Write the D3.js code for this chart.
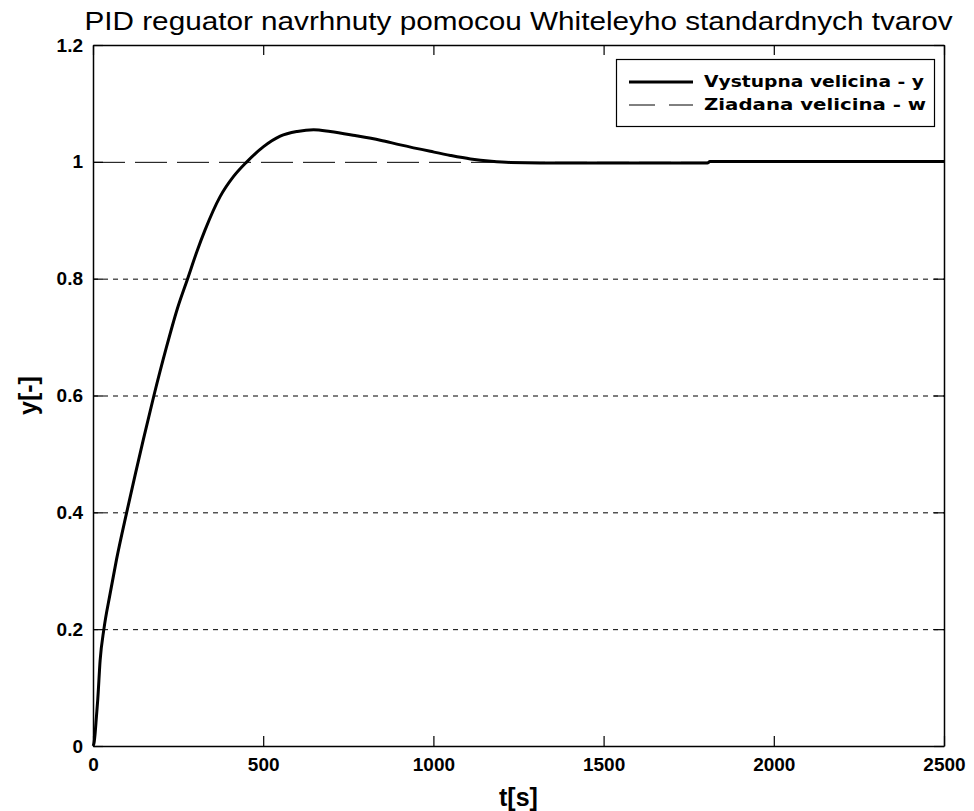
<!DOCTYPE html>
<html>
<head>
<meta charset="utf-8">
<script src="https://cdn.jsdelivr.net/npm/d3@7"></script>
<style>
  html, body { margin: 0; padding: 0; background: #fff; }
  svg { display: block; }
</style>
</head>
<body>
<svg id="chart" width="974" height="811"></svg>
<script>
// Step response of the closed loop (output y) and the set-point w
const timeS = [0, 3, 6, 10, 14, 21, 32, 50, 69, 99, 125, 148, 179, 215, 248, 278, 305, 329, 373, 413,
  452, 501, 550, 600, 648, 697, 770, 844, 903, 991, 1050, 1109, 1170, 1226, 1400, 1600, 1805,
  1812, 2000, 2200, 2500];
const outputY = [0, 0.005, 0.02, 0.05, 0.08, 0.147, 0.2, 0.26, 0.319, 0.4, 0.467, 0.525, 0.6, 0.681,
  0.749, 0.8, 0.846, 0.883, 0.94, 0.975, 1.0, 1.026, 1.044, 1.052, 1.055, 1.052, 1.045, 1.037,
  1.029, 1.018, 1.011, 1.005, 1.001, 0.999, 0.998, 0.998, 0.998, 1.0005, 1.0005, 1.0005, 1.0005];
const setpointT = [0, 2500];
const setpointW = [1, 1];

const xTicks = [0, 500, 1000, 1500, 2000, 2500];
const yTicks = [0, 0.2, 0.4, 0.6, 0.8, 1, 1.2];
const gridTicks = [0.2, 0.4, 0.6, 0.8];
const legendLabels = ["Vystupna velicina - y", "Ziadana velicina - w"];
const titleText = "PID reguator navrhnuty pomocou Whiteleyho standardnych tvarov";

(function () {
const svg = d3.select("#chart");
const pL = 93, pR = 944, pT = 45, pB = 746;

const x = d3.scaleLinear().domain([0, 2500]).range([pL, pR]);
const y = d3.scaleLinear().domain([0, 1.2]).range([pB, pT]);

const font = "'Liberation Sans', Arial, sans-serif";

// dotted horizontal grid
svg.append("g").selectAll("line").data(gridTicks).join("line")
  .attr("x1", pL).attr("x2", pR)
  .attr("y1", d => y(d) + 0.5).attr("y2", d => y(d) + 0.5)
  .attr("stroke", "#000").attr("stroke-width", 1)
  .attr("stroke-dasharray", "5,5");

// set-point, long dashes
const line = d3.line().x(d => x(d[0])).y(d => y(d[1]));
svg.append("path")
  .datum(setpointT.map((t, i) => [t, setpointW[i]]))
  .attr("d", line)
  .attr("transform", "translate(0,0.5)")
  .attr("fill", "none").attr("stroke", "#000").attr("stroke-width", 1)
  .attr("stroke-dasharray", "32,10");

// plant output
const outLine = d3.line().x(d => x(d[0])).y(d => y(d[1])).curve(d3.curveMonotoneX);
svg.append("path")
  .datum(timeS.map((t, i) => [t, outputY[i]]))
  .attr("d", outLine)
  .attr("fill", "none").attr("stroke", "#000").attr("stroke-width", 3)
  .attr("stroke-linejoin", "round");

// axes box with inward ticks on all four sides
const tickLen = 10;
const axB = svg.append("g").attr("transform", `translate(0,${pB})`)
  .call(d3.axisBottom(x).tickValues(xTicks).tickSizeInner(-tickLen).tickSizeOuter(0).tickPadding(12)
    .tickFormat(d3.format("d")));
const axT = svg.append("g").attr("transform", `translate(0,${pT})`)
  .call(d3.axisTop(x).tickValues(xTicks).tickSizeInner(-tickLen).tickSizeOuter(0).tickFormat(""));
const axL = svg.append("g").attr("transform", `translate(${pL},0)`)
  .call(d3.axisLeft(y).tickValues(yTicks).tickSizeInner(-tickLen).tickSizeOuter(0).tickPadding(10)
    .tickFormat(d => d3.format("~g")(d)));
const axR = svg.append("g").attr("transform", `translate(${pR},0)`)
  .call(d3.axisRight(y).tickValues(yTicks).tickSizeInner(-tickLen).tickSizeOuter(0).tickFormat(""));

[axB, axT, axL, axR].forEach(g => {
  g.selectAll(".domain").attr("stroke", "#000").attr("stroke-width", 1.5);
  g.selectAll(".tick line").attr("stroke", "#000").attr("stroke-width", 1.2);
  g.selectAll("text").attr("font-family", font).attr("font-weight", "bold")
    .attr("font-size", 19).attr("fill", "#000");
});

// title and axis labels
svg.append("text").attr("x", (pL + pR) / 2).attr("y", 30)
  .attr("text-anchor", "middle").attr("font-family", font).attr("font-size", 25)
  .attr("textLength", 868).attr("lengthAdjust", "spacingAndGlyphs")
  .text(titleText);
svg.append("text").attr("x", (pL + pR) / 2).attr("y", 806)
  .attr("text-anchor", "middle").attr("font-family", font).attr("font-weight", "bold")
  .attr("font-size", 25).text("t[s]");
svg.append("text").attr("transform", `translate(37,${(pT + pB) / 2}) rotate(-90)`)
  .attr("text-anchor", "middle").attr("font-family", font).attr("font-weight", "bold")
  .attr("font-size", 25).text("y[-]");

// legend
const lg = svg.append("g");
lg.append("rect").attr("x", 616.5).attr("y", 59.5).attr("width", 318).attr("height", 67)
  .attr("fill", "#fff").attr("stroke", "#000").attr("stroke-width", 1.2);
const legendDash = [null, "26,14"];
const legendWidth = [3, 1];
const legendLen = [220, 222];
legendLabels.forEach((lab, i) => {
  const ly = 82 + i * 23;
  lg.append("line").attr("x1", 629).attr("x2", 693).attr("y1", ly).attr("y2", ly)
    .attr("stroke", "#000").attr("stroke-width", legendWidth[i])
    .attr("stroke-dasharray", legendDash[i]);
  lg.append("text").attr("x", 704).attr("y", ly + 5).attr("font-family", "'DejaVu Sans', sans-serif")
    .attr("font-weight", "bold").attr("font-size", 15)
    .attr("textLength", legendLen[i]).attr("lengthAdjust", "spacingAndGlyphs").text(lab);
});
})();
</script>
</body>
</html>
